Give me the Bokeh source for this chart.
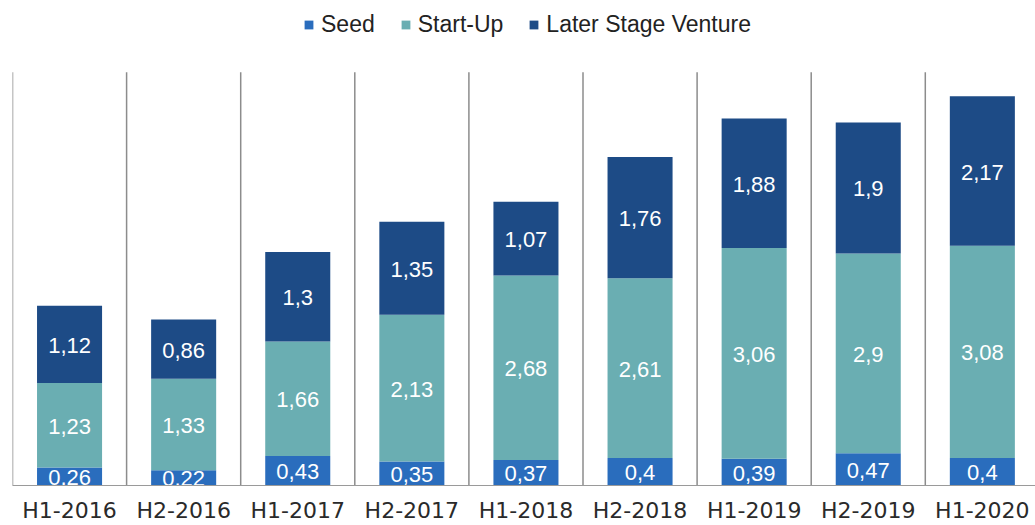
import numpy as np
from bokeh.plotting import figure
from bokeh.models import ColumnDataSource, Range1d, FixedTicker, Legend
from bokeh.core.properties import value
from bokeh.embed import file_html
from bokeh.resources import INLINE

categories = ["H1-2016", "H2-2016", "H1-2017", "H2-2017", "H1-2018",
              "H2-2018", "H1-2019", "H2-2019", "H1-2020"]
seed = [0.26, 0.22, 0.43, 0.35, 0.37, 0.4, 0.39, 0.47, 0.4]
startup = [1.23, 1.33, 1.66, 2.13, 2.68, 2.61, 3.06, 2.9, 3.08]
later = [1.12, 0.86, 1.3, 1.35, 1.07, 1.76, 1.88, 1.9, 2.17]
series_names = ["Seed", "Start-Up", "Later Stage Venture"]
colors = ["#2a6dbd", "#6aaeb2", "#1d4b86"]

n = len(categories)
xs = [i + 0.5 for i in range(n)]

src = ColumnDataSource(dict(x=xs, seed=seed, startup=startup, later=later))

p = figure(width=1035, height=525, output_backend="svg", toolbar_location=None,
           x_range=Range1d(0, 1023 / 114.1), y_range=Range1d(0, 488 / 69.3),
           min_border_left=12, min_border_right=0, min_border_top=0,
           min_border_bottom=0)
p.outline_line_color = None
p.grid.visible = False
p.yaxis.visible = False

# separators between categories
p.segment(x0=list(range(n)), x1=list(range(n)), y0=[0] * n, y1=[6] * n,
          line_color="#8c8c8c", line_width=1.5)

renderers = p.vbar_stack(["seed", "startup", "later"], x="x", width=0.57,
                         source=src, fill_color=colors, line_color=None)

# labels
s = np.array(seed); su = np.array(startup); la = np.array(later)
lab_x, lab_y, lab_t = [], [], []
for vals, base in [(s, np.zeros(n)), (su, s), (la, s + su)]:
    for i in range(n):
        lab_x.append(xs[i])
        lab_y.append(base[i] + vals[i] / 2)
        lab_t.append(("%g" % vals[i]).replace(".", ","))
p.text(x=lab_x, y=lab_y, text=lab_t, text_color="white",
       text_font=value("Liberation Sans"), text_font_size="22px",
       text_align="center", text_baseline="middle", y_offset=1)

legend = Legend(items=[(nm, [r]) for nm, r in zip(series_names, renderers)],
                orientation="horizontal", location=(291, 447),
                glyph_width=11, glyph_height=11, label_standoff=7, spacing=25,
                label_text_font="Liberation Sans", label_text_font_size="23px",
                label_text_color="#222222", border_line_color=None,
                background_fill_alpha=0, padding=4, margin=0)
p.add_layout(legend, "center")

p.xaxis.ticker = FixedTicker(ticks=xs)
p.xaxis.major_label_overrides = {x: c for x, c in zip(xs, categories)}
p.xaxis.axis_line_color = "#9a9a9a"
p.xaxis.axis_line_width = 1
p.xaxis.major_tick_line_color = None
p.xaxis.major_tick_out = 0
p.xaxis.minor_tick_line_color = None
p.xaxis.minor_tick_out = 0
p.xaxis.major_label_standoff = 12
p.xaxis.major_label_text_font = "DejaVu Sans"
p.xaxis.major_label_text_font_size = "22px"
p.xaxis.major_label_text_color = "#2a2a2a"

open("out.html", "w").write(file_html(p, INLINE))
